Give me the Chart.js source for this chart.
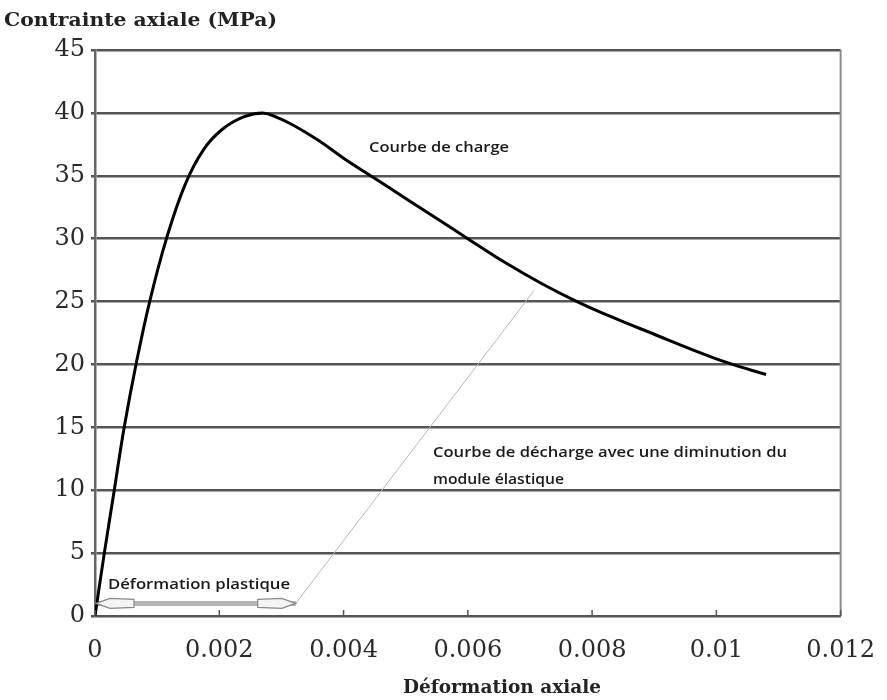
<!DOCTYPE html>
<html lang="fr">
<head>
    <meta charset="UTF-8">
    <title>Contrainte - déformation</title>
    <script src="https://cdn.jsdelivr.net/npm/chart.js"></script>
    <style>
        body {
            margin: 0;
            padding: 0;
            background: #fff;
        }
        #chart {
            display: block;
        }
    </style>
</head>
<body>
    <canvas id="chart" width="887" height="700"></canvas>

    <script>
        // Courbe de charge (strain, stress in MPa)
        const chargeStrain = [0, 0.00015, 0.00031, 0.00047, 0.00066, 0.00088, 0.00115, 0.00145, 0.00175, 0.00205, 0.0024, 0.0027, 0.0029, 0.0032, 0.0036, 0.004, 0.0045, 0.005, 0.0055, 0.006, 0.0066, 0.0072, 0.0078, 0.0084, 0.009, 0.0096, 0.0102, 0.0108];
        const chargeStress = [0, 5, 10, 15, 20, 25, 30, 34.3, 37.1, 38.7, 39.7, 40, 39.7, 39.0, 37.8, 36.4, 34.8, 33.2, 31.6, 30.0, 28.1, 26.4, 24.9, 23.6, 22.4, 21.2, 20.1, 19.2];

        // Courbe de décharge (thin grey line)
        const dechargeStrain = [0.00323, 0.00707];
        const dechargeStress = [1, 25.9];

        // Déformation plastique (double arrow)
        const plastiqueStrain = [0, 0.00323];
        const plastiqueStress = [1, 1];

        const xTickLabels = ['0', '0.002', '0.004', '0.006', '0.008', '0.01', '0.012'];
        const yTickLabels = ['0', '5', '10', '15', '20', '25', '30', '35', '40', '45'];

        const toPoints = (xs, ys) => xs.map((x, i) => ({ x: x, y: ys[i] }));

        // draw text squeezed/stretched to a given width
        function drawFit(ctx, text, x, y, width, font, color) {
            ctx.save();
            ctx.font = font;
            ctx.fillStyle = color;
            ctx.textBaseline = 'middle';
            ctx.textAlign = 'left';
            const w = ctx.measureText(text).width;
            ctx.translate(x, y);
            ctx.scale(width / w, 1);
            ctx.fillText(text, 0, 0);
            ctx.restore();
        }

        function arrowHead(ctx, tipX, y, dir) {
            ctx.save();
            ctx.beginPath();
            ctx.moveTo(tipX, y);
            ctx.lineTo(tipX - dir * 14, y - 5);
            ctx.lineTo(tipX - dir * 38, y - 4);
            ctx.lineTo(tipX - dir * 38, y + 4);
            ctx.lineTo(tipX - dir * 14, y + 5);
            ctx.closePath();
            ctx.fillStyle = '#f4f4f4';
            ctx.fill();
            ctx.strokeStyle = '#8a8a8a';
            ctx.lineWidth = 1.2;
            ctx.stroke();
            ctx.restore();
        }

        const extras = {
            id: 'extras',
            afterDraw(chart) {
                const ctx = chart.ctx;
                const xs = chart.scales.x;
                const ys = chart.scales.y;
                const area = chart.chartArea;

                // right border
                ctx.save();
                ctx.strokeStyle = '#8c8c8c';
                ctx.lineWidth = 2;
                ctx.beginPath();
                ctx.moveTo(area.right, area.top);
                ctx.lineTo(area.right, area.bottom);
                ctx.stroke();

                // small inward ticks on the x axis
                ctx.strokeStyle = '#555';
                ctx.lineWidth = 1.5;
                xs.ticks.forEach(t => {
                    const px = xs.getPixelForValue(t.value);
                    ctx.beginPath();
                    ctx.moveTo(px, area.bottom);
                    ctx.lineTo(px, area.bottom - 6);
                    ctx.stroke();
                });
                ctx.restore();

                // arrow heads for the plastic strain
                const ay = ys.getPixelForValue(plastiqueStress[0]);
                arrowHead(ctx, xs.getPixelForValue(plastiqueStrain[0]) + 1, ay, -1);
                arrowHead(ctx, xs.getPixelForValue(plastiqueStrain[1]), ay, 1);

                // annotations
                const note = '600 15px "Open Sans"';
                drawFit(ctx, 'Courbe de charge', 369, 148, 140, note, '#1a1a1a');
                drawFit(ctx, 'Courbe de décharge avec une diminution du', 433, 453, 354, note, '#1a1a1a');
                drawFit(ctx, 'module élastique', 433, 480, 131, note, '#1a1a1a');
                drawFit(ctx, 'Déformation plastique', 108, 585, 182, note, '#1a1a1a');

                // axis titles
                const title = 'bold 18px "DejaVu Serif"';
                drawFit(ctx, 'Contrainte axiale (MPa)', 4, 21, 273, title, '#222');
                drawFit(ctx, 'Déformation axiale', 403, 688, 198, title, '#222');
            }
        };

        const chart = new Chart(document.getElementById('chart').getContext('2d'), {
            type: 'scatter',
            data: {
                datasets: [
                    {
                        label: 'Déformation plastique',
                        data: toPoints(plastiqueStrain, plastiqueStress),
                        showLine: true,
                        borderColor: '#b4b4b4',
                        borderWidth: 5,
                        pointRadius: 0,
                        order: 3
                    },
                    {
                        label: 'Courbe de décharge',
                        data: toPoints(dechargeStrain, dechargeStress),
                        showLine: true,
                        borderColor: '#b8b8b8',
                        borderWidth: 1,
                        pointRadius: 0,
                        order: 2
                    },
                    {
                        label: 'Courbe de charge',
                        data: toPoints(chargeStrain, chargeStress),
                        showLine: true,
                        borderColor: '#000',
                        borderWidth: 3,
                        pointRadius: 0,
                        tension: 0.4,
                        order: 1
                    }
                ]
            },
            options: {
                responsive: false,
                animation: false,
                layout: {
                    padding: { left: 0, right: 42, top: 50, bottom: 0 }
                },
                plugins: {
                    legend: { display: false },
                    tooltip: { enabled: false }
                },
                scales: {
                    x: {
                        type: 'linear',
                        min: 0,
                        max: 0.012,
                        afterFit: scale => { scale.height = 84; },
                        afterBuildTicks: scale => {
                            scale.ticks = xTickLabels.map((l, i) => ({ value: i * 0.002 }));
                        },
                        ticks: {
                            padding: 12,
                            color: '#2a2a2a',
                            maxRotation: 0,
                            font: { family: '"DejaVu Serif"', size: 24 },
                            callback: (v, i) => xTickLabels[i]
                        },
                        grid: { display: false },
                        border: { display: true, color: '#555', width: 2 }
                    },
                    y: {
                        min: 0,
                        max: 45,
                        afterFit: scale => { scale.width = 95; },
                        afterBuildTicks: scale => {
                            scale.ticks = yTickLabels.map((l, i) => ({ value: i * 5 }));
                        },
                        ticks: {
                            padding: 6,
                            color: '#2a2a2a',
                            font: { family: '"DejaVu Serif"', size: 24 },
                            callback: (v, i) => yTickLabels[i]
                        },
                        grid: {
                            color: '#555',
                            lineWidth: 2.5,
                            tickLength: 4
                        },
                        border: { display: true, color: '#666', width: 2.5 }
                    }
                }
            },
            plugins: [extras]
        });
    </script>
</body>
</html>
